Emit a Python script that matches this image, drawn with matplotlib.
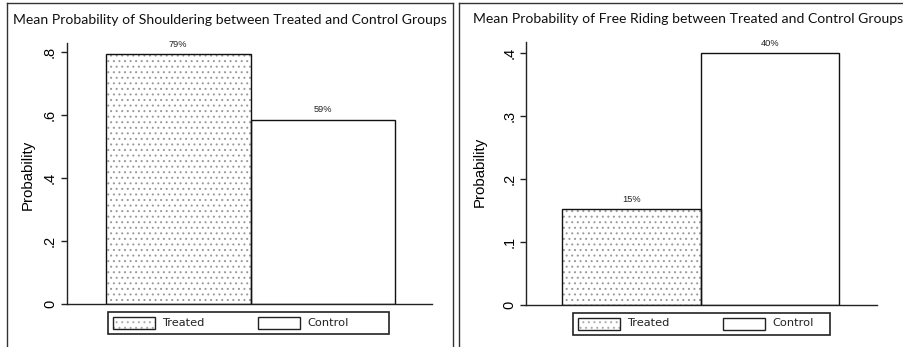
import matplotlib
matplotlib.use("Agg")
import matplotlib.pyplot as plt
from matplotlib.patches import Rectangle
from matplotlib.lines import Line2D

plt.rcParams["hatch.linewidth"] = 0.7

# ===== data
groups = ["Treated", "Control"]
shoulder = [0.793, 0.586]
shoulder_labels = ["79%", "59%"]
freeride = [0.152, 0.399]
freeride_labels = ["15%", "40%"]
shoulder_ticks = [0, 0.2, 0.4, 0.6, 0.8]
shoulder_ticklabels = ["0", ".2", ".4", ".6", ".8"]
freeride_ticks = [0, 0.1, 0.2, 0.3, 0.4]
freeride_ticklabels = ["0", ".1", ".2", ".3", ".4"]
titles = ["Mean Probability of Shouldering between Treated and Control Groups",
          "Mean Probability of Free Riding between Treated and Control Groups"]

W, H = 904, 347
fig = plt.figure(figsize=(W / 100, H / 100), dpi=100)
fig.patch.set_facecolor("white")


def fx(px):
    return px / W


def fy(py):
    return 1 - py / H


def frame(x0, x1):
    # panel border: left, top, right
    kw = dict(color="#333333", lw=1.0, transform=fig.transFigure)
    fig.add_artist(Line2D([fx(x0), fx(x0)], [fy(3), 0], **kw))
    fig.add_artist(Line2D([fx(x0), fx(x1)], [fy(3), fy(3)], **kw))
    if x1 < W:
        fig.add_artist(Line2D([fx(x1), fx(x1)], [fy(3), 0], **kw))


def legend_box(x0, y0, x1, y1):
    kw = dict(transform=fig.transFigure, clip_on=False)
    fig.add_artist(Rectangle((fx(x0), fy(y1)), fx(x1 - x0), (y1 - y0) / H,
                             fill=False, ec="#222222", lw=1.2, **kw))
    sw = 42
    for i, name in enumerate(groups):
        sx = x0 + 5 + i * 145
        if i == 0:
            fig.add_artist(Rectangle((fx(sx), fy(y0 + 17)), fx(sw), 12 / H,
                                     fc="white", ec="#aaaaaa", lw=0,
                                     hatch="...", **kw))
        fig.add_artist(Rectangle((fx(sx), fy(y0 + 17)), fx(sw), 12 / H,
                                 fill=False, ec="#222222", lw=1.0, **kw))
        fig.text(fx(sx + sw + 7), fy(y0 + 10.5), name, fontsize=8.2,
                 family="DejaVu Sans", va="center", ha="left", color="#222222")


def panel(px0, px1, py_top, py_bot, vals, labels, ticks, ticklabels, ylim, xlim):
    ax = fig.add_axes([fx(px0), fy(py_bot), fx(px1 - px0), (py_bot - py_top) / H])
    pos = [0, 1]
    ax.bar(pos[0], vals[0], width=1, color="white", edgecolor="#999999",
           linewidth=0, hatch="...")
    ax.bar(pos, vals, width=1, fill=False, edgecolor="#111111", linewidth=1.0)
    for p, v, t in zip(pos, vals, labels):
        ax.annotate(t, (p, v), xytext=(0, 4), textcoords="offset points",
                    ha="center", va="bottom", fontsize=6.7,
                    family="Liberation Sans", color="#222222")
    ax.set_xlim(*xlim)
    ax.set_ylim(*ylim)
    ax.set_xticks([])
    ax.set_yticks(ticks)
    ax.set_yticklabels(ticklabels, rotation=90, va="center",
                       family="Liberation Sans", fontsize=10.5)
    ax.tick_params(axis="y", length=4, width=1, pad=3, color="#222222")
    for s in ["top", "right"]:
        ax.spines[s].set_visible(False)
    for s in ["left", "bottom"]:
        ax.spines[s].set_color("#222222")
        ax.spines[s].set_linewidth(1.0)
    return ax


# ===== left panel
frame(7, 453)
panel(66.7, 432, 43, 304, shoulder, shoulder_labels, shoulder_ticks,
      shoulder_ticklabels, (0, 0.829), (-0.772, 1.756))
fig.text(fx(13), fy(20), titles[0], fontsize=10.05, family="Lato",
         ha="left", va="center", color="#111111")
fig.text(fx(28), fy(175), "Probability", rotation=90, fontsize=10.8,
         family="Liberation Sans", ha="center", va="center")
legend_box(108, 312, 389, 334)

# ===== right panel
frame(459, W + 5)
panel(526, 877, 42, 305, freeride, freeride_labels, freeride_ticks,
      freeride_ticklabels, (0, 0.417), (-0.76, 1.774))
fig.text(fx(473), fy(19), titles[1], fontsize=10.05, family="Lato",
         ha="left", va="center", color="#111111")
fig.text(fx(480), fy(172), "Probability", rotation=90, fontsize=10.8,
         family="Liberation Sans", ha="center", va="center")
legend_box(573, 313, 830, 335)

fig.savefig("out.png", dpi=100)
